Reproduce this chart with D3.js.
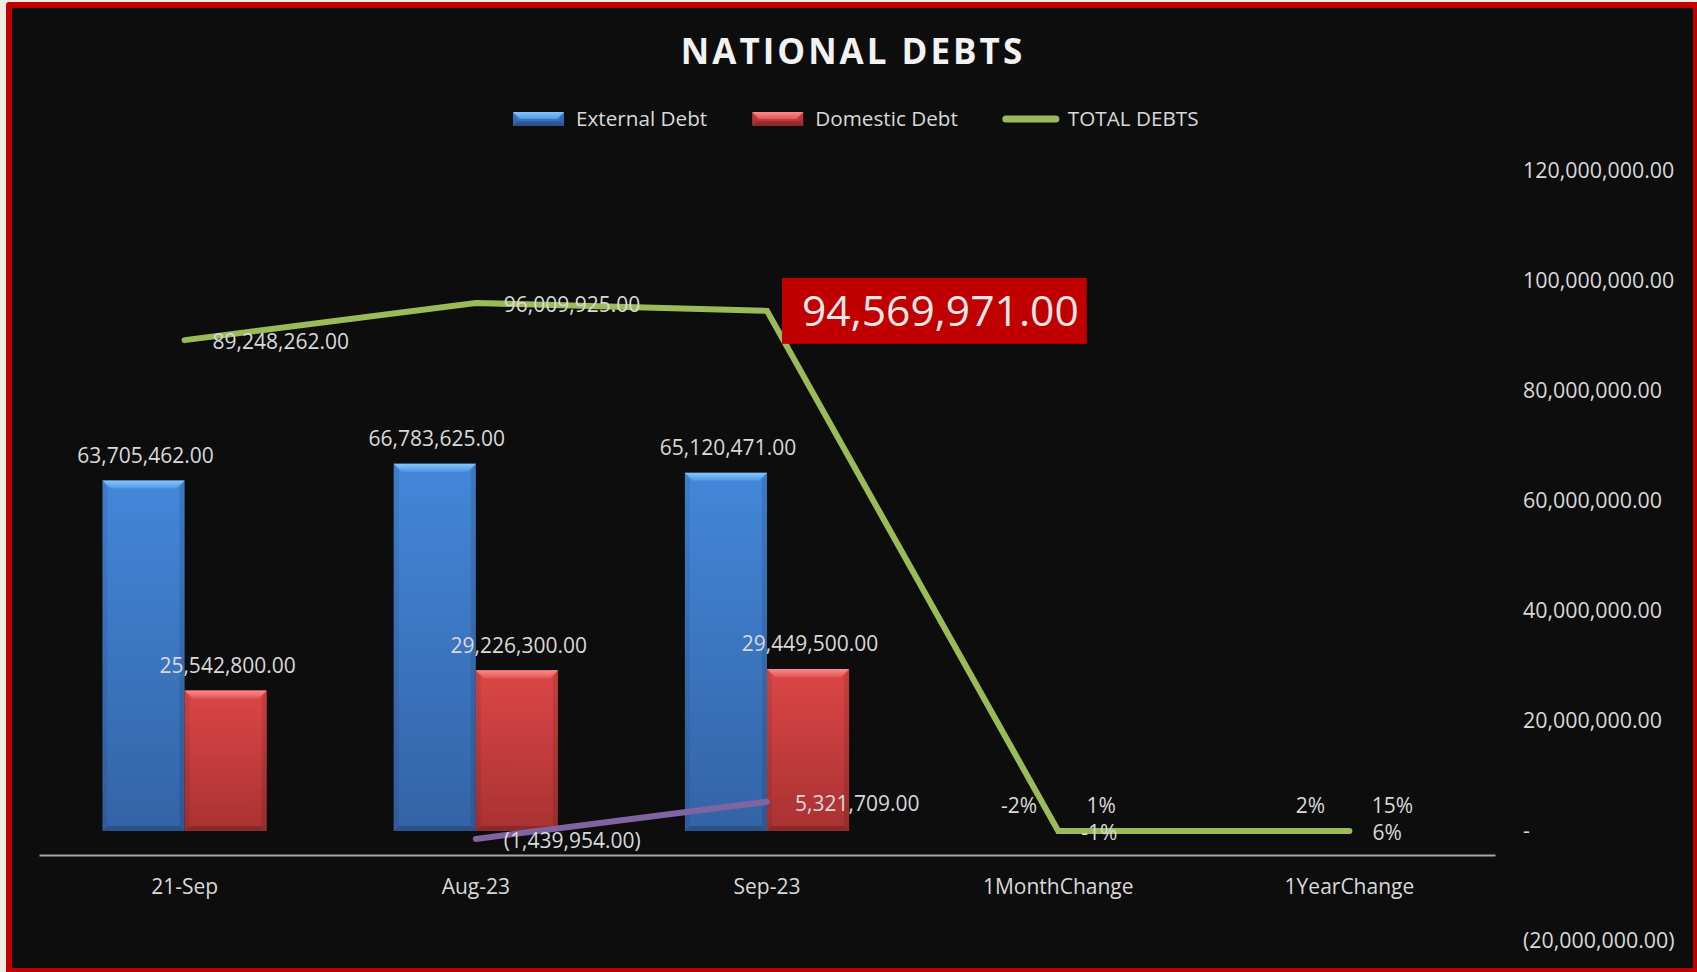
<!DOCTYPE html>
<html>
<head>
<meta charset="utf-8">
<script src="https://cdn.jsdelivr.net/npm/d3@7"></script>
<style>
  html, body { margin: 0; padding: 0; background: #efece2; }
  svg { display: block; }
  text { font-family: "Open Sans", sans-serif; }
</style>
</head>
<body>
<script>
"use strict";

// chart data
const categories = ["21-Sep", "Aug-23", "Sep-23", "1MonthChange", "1YearChange"];
const externalDebt = [63705462, 66783625, 65120471, -0.024904, 0.022212];
const domesticDebt = [25542800, 29226300, 29449500, 0.007637, 0.152946];
const totalDebts = [89248262, 96009925, 94569971, -0.014998, 0.059628];
const totalChange = [null, -1439954, 5321709, null, null];
const axisTicks = [-20000000, 0, 20000000, 40000000, 60000000, 80000000, 100000000, 120000000];
const seriesNames = ["External Debt", "Domestic Debt", "TOTAL DEBTS"];
const highlightIndex = 2;

const size = { width: 1697, height: 972 };
const plot = { left: 39, right: 1495, top: 171, bottom: 941, axisY: 855, tickX: 1523 };
const labelColor = "#d9d9d9";

const locale = d3.formatLocale({ decimal: ".", thousands: ",", grouping: [3], currency: ["$", ""], minus: "-" });
const fmtMoney = locale.format(",.2f");
const fmtPct = locale.format(".0%");

function fmtValue(v) {
    if (Math.abs(v) < 1) return fmtPct(v);
    return v < 0 ? "(" + fmtMoney(-v) + ")" : fmtMoney(v);
}
function fmtAxis(v) {
    if (v === 0) return "-";
    return v < 0 ? "(" + fmtMoney(-v) + ")" : fmtMoney(v);
}

const svg = d3.select("body").append("svg")
    .attr("width", size.width)
    .attr("height", size.height);

// frame: red border round a near-black chart area
svg.append("rect").attr("x", 6).attr("y", 2).attr("width", size.width).attr("height", size.height)
    .attr("rx", 3).attr("fill", "#c00000");
svg.append("rect").attr("x", 12).attr("y", 8).attr("width", 1681).attr("height", 960)
    .attr("fill", "#0d0d0d");

// gradients for the bevelled bars
const defs = svg.append("defs");
function vGrad(id, stops) {
    const g = defs.append("linearGradient").attr("id", id)
        .attr("x1", 0).attr("y1", 0).attr("x2", 0).attr("y2", 1);
    stops.forEach(s => g.append("stop").attr("offset", s[0]).attr("stop-color", s[1]));
}
vGrad("blueBody", [[0, "#4387d9"], [1, "#3463a6"]]);
vGrad("blueTop", [[0, "#86c6ff"], [1, "#4f97e6"]]);
vGrad("redBody", [[0, "#dc4646"], [1, "#a93232"]]);
vGrad("redTop", [[0, "#ff8a8a"], [1, "#e05656"]]);
const palettes = [
    { body: "url(#blueBody)", top: "url(#blueTop)" },
    { body: "url(#redBody)", top: "url(#redTop)" }
];

// scales
const x = d3.scaleBand().domain(categories).range([plot.left, plot.right]);
const barGroupWidth = x.bandwidth() * 0.564;
const xInner = d3.scaleBand().domain([0, 1]).range([0, barGroupWidth]);
const y = d3.scaleLinear().domain([-20000000, 120000000]).range([plot.bottom, plot.top]);
const cx = (i) => x(categories[i]) + x.bandwidth() / 2;

// title
svg.append("text")
    .attr("x", 853).attr("y", 52)
    .attr("text-anchor", "middle").attr("dy", "0.35em")
    .style("font-size", "35px").style("font-weight", 700).style("letter-spacing", "3px")
    .attr("fill", "#f2f2f2")
    .text("NATIONAL DEBTS");

function drawBevel(g, bx, by, w, h, pal) {
    g.append("rect").attr("x", bx).attr("y", by).attr("width", w).attr("height", h).attr("fill", pal.body);
    const b = Math.min(8, h / 2);
    if (b < 1) return;
    const s = Math.min(5, h / 3);
    g.append("path").attr("d", `M${bx},${by}L${bx + w},${by}L${bx + w - b},${by + b}L${bx + b},${by + b}Z`)
        .attr("fill", pal.top);
    g.append("path").attr("d", `M${bx},${by}L${bx + s},${by + b}L${bx + s},${by + h - s}L${bx},${by + h}Z`)
        .attr("fill", "#000").attr("opacity", 0.07);
    g.append("path").attr("d", `M${bx + w},${by}L${bx + w - s},${by + b}L${bx + w - s},${by + h - s}L${bx + w},${by + h}Z`)
        .attr("fill", "#000").attr("opacity", 0.1);
    g.append("path").attr("d", `M${bx},${by + h}L${bx + s},${by + h - s}L${bx + w - s},${by + h - s}L${bx + w},${by + h}Z`)
        .attr("fill", "#000").attr("opacity", 0.18);
}

// legend
const legend = svg.append("g").attr("transform", "translate(513,119)");
let lx = 0;
seriesNames.forEach((name, k) => {
    if (k < 2) {
        drawBevel(legend.append("g"), lx, -7, 51, 14, palettes[k]);
        lx += 63;
    } else {
        legend.append("line").attr("x1", lx + 3).attr("x2", lx + 53).attr("y1", 0).attr("y2", 0)
            .attr("stroke", "#9bbb59").attr("stroke-width", 7).attr("stroke-linecap", "round");
        lx += 65;
    }
    const t = legend.append("text").attr("x", lx).attr("dy", "0.35em")
        .style("font-size", "20.7px").attr("fill", labelColor).text(name);
    lx += t.node().getComputedTextLength() + 45;
});

// right axis
const yAxis = d3.axisRight(y).tickValues(axisTicks).tickSize(0).tickPadding(0).tickFormat(fmtAxis);
const yAxisG = svg.append("g").attr("transform", `translate(${plot.tickX},0)`).call(yAxis);
yAxisG.select(".domain").remove();
yAxisG.selectAll("text").attr("fill", labelColor).style("font-size", "21.4px").style("font-family", "'Open Sans', sans-serif");

// category axis
const xAxis = d3.axisBottom(x).tickSize(0).tickSizeOuter(0).tickPadding(24);
const xAxisG = svg.append("g").attr("transform", `translate(0,${plot.axisY})`).call(xAxis);
xAxisG.select(".domain").attr("stroke", "#a6a6a6").attr("stroke-width", 2);
xAxisG.selectAll("text").attr("fill", labelColor).style("font-size", "21px").style("font-family", "'Open Sans', sans-serif");

// bars
const barSeries = [externalDebt, domesticDebt];
barSeries.forEach((values, k) => {
    const g = svg.append("g");
    values.forEach((v, i) => {
        const bx = cx(i) - barGroupWidth / 2 + xInner(k);
        const top = y(Math.max(0, v));
        const h = Math.abs(y(v) - y(0));
        drawBevel(g.append("g"), bx, top, xInner.bandwidth(), h, palettes[k]);
        g.append("text")
            .attr("x", bx + xInner.bandwidth() / 2 + 2)
            .attr("y", top - 25).attr("dy", "0.35em")
            .attr("text-anchor", "middle")
            .style("font-size", "21px").attr("fill", labelColor)
            .text(fmtValue(v));
    });
});

// lines
const line = d3.line()
    .defined(d => d.v !== null)
    .x(d => cx(d.i))
    .y(d => y(d.v));

function drawLine(values, color) {
    const pts = values.map((v, i) => ({ v: v, i: i }));
    svg.append("path").datum(pts)
        .attr("d", line)
        .attr("fill", "none").attr("stroke", color).attr("stroke-width", 6)
        .attr("stroke-linecap", "round").attr("stroke-linejoin", "miter");
    return pts.filter(d => d.v !== null);
}

const changePts = drawLine(totalChange, "#8064a2");
changePts.forEach(d => {
    svg.append("text").attr("x", cx(d.i) + 28).attr("y", y(d.v) + 2).attr("dy", "0.35em")
        .style("font-size", "21px").attr("fill", labelColor).text(fmtValue(d.v));
});

const totalPts = drawLine(totalDebts, "#9bbb59");
totalPts.forEach(d => {
    const px = cx(d.i), py = y(d.v);
    if (d.i === highlightIndex) {
        const box = svg.append("rect").attr("fill", "#c00000");
        const t = svg.append("text").attr("x", px + 35).attr("y", py).attr("dy", "0.35em")
            .style("font-size", "42.6px").attr("fill", "#e6e6e6").text(fmtValue(d.v));
        const wdt = t.node().getComputedTextLength();
        box.attr("x", px + 15).attr("y", py - 33).attr("width", wdt + 28).attr("height", 66);
    } else {
        svg.append("text").attr("x", px + (Math.abs(d.v) < 1 ? 23 : 28)).attr("y", py + 2).attr("dy", "0.35em")
            .style("font-size", "21px").attr("fill", labelColor).text(fmtValue(d.v));
    }
});
</script>
</body>
</html>
